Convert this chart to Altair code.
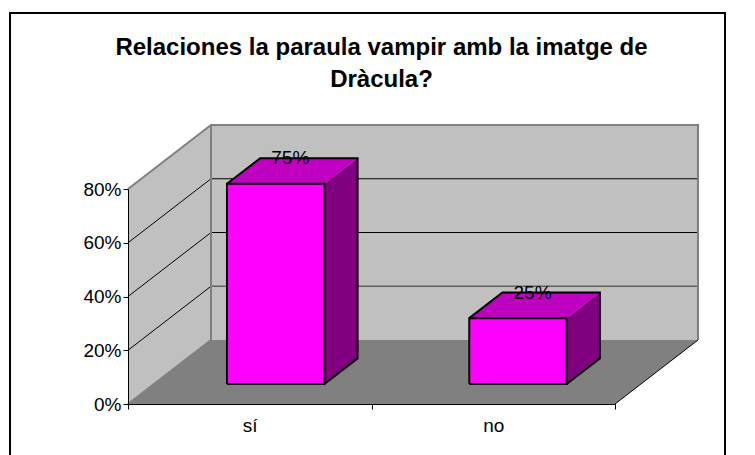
import altair as alt
import pandas as pd

categories = ["sí", "no"]
values = [74.5, 24.5]
bar_labels = ["75%", "25%"]
y_ticks = [0, 20, 40, 60, 80]
title_lines = ["Relaciones la paraula vampir amb la imatge de", "Dràcula?"]

# layout of the oblique projection
PW, PH = 487, 215          # front plane in px
DX, DY = 83, 64            # depth vector in px
PCT = PH / 80
Dy = DY / PCT
Du = DX / (PW / 2)
F, B = 0.3125, 0.7125      # bar depth range
HALF = 0.2
STEP = 0.995
BAR_FILL, BAR_TOP, BAR_SIDE = "#FF00FF", "#C000C0", "#800080"
GRAY, BLACK = "#808080", "#000000"
FONT = "Liberation Sans"
FS = 19

xscale = alt.Scale(domain=[0, 2], range=[0, PW], nice=False, zero=False)
yscale = alt.Scale(domain=[0, 80], range=[PH, 0], nice=False, zero=False)
xaxis = alt.Axis(
    values=[0, 1, 2], title=None, grid=False, domainColor=BLACK, tickColor=BLACK, tickSize=5, zindex=1,
    labelExpr="datum.value==0?'%s':datum.value==1?'%s':''" % tuple(categories),
    labelOffset=PW / 4, labelFont=FONT, labelFontSize=FS, labelColor=BLACK,
    labelPadding=7, labelOverlap=False, labelBound=False, labelFlush=False)
yaxis = alt.Axis(
    values=y_ticks, title=None, grid=False, domainColor=BLACK, tickColor=BLACK, tickSize=5, zindex=1,
    labelExpr="datum.value+'%'", labelFont=FONT, labelFontSize=FS, labelColor=BLACK,
    labelPadding=2)


def X(f):
    return alt.X(f, scale=xscale, axis=xaxis)


def Y(f):
    return alt.Y(f, scale=yscale, axis=yaxis)


def P(u, v, d):
    return u + d * Du, v + d * Dy


def h_face(u0, u1, v0, v1, d0, d1, **style):
    """horizontal-edged parallelogram (floor, tops)"""
    rows = []
    for v, d in ((v0, d0), (v1, d1)):
        a, y = P(u0, v, d)
        b, _ = P(u1, v, d)
        rows.append({"a": a, "b": b, "y": y})
    return alt.Chart(pd.DataFrame(rows)).mark_area(orient="horizontal", **style).encode(
        y=Y("y:Q"), x=X("a:Q"), x2="b:Q")


def v_face(u, v0, v1, d0, d1, **style):
    """vertical-edged parallelogram (walls, bar sides)"""
    rows = []
    for d in (d0, d1):
        a, y0 = P(u, v0, d)
        _, y1 = P(u, v1, d)
        rows.append({"x": a, "y0": y0, "y1": y1})
    return alt.Chart(pd.DataFrame(rows)).mark_area(orient="vertical", **style).encode(
        x=X("x:Q"), y=Y("y0:Q"), y2="y1:Q")


def seg(pts, color, width=1):
    rows = [{"x": x, "y": y, "i": i} for i, (x, y) in enumerate(pts)]
    return alt.Chart(pd.DataFrame(rows)).mark_line(color=color, strokeWidth=width, clip=False).encode(
        x=X("x:Q"), y=Y("y:Q"), order="i:O")


layers = []
# walls and floor
layers.append(v_face(0, 0, 80, 0, 1, color="#C0C0C0"))
layers.append(h_face(0, 2, 0, 80, 1, 1, color="#C0C0C0"))
layers.append(h_face(0, 2, 0, 0, 0, 1, color=GRAY))
# grid lines
for t in y_ticks[1:-1]:
    layers.append(seg([P(0, t, 0), P(0, t, 1)], BLACK))
    if t == 20:
        layers.append(seg([P(0, t, 1), P(2, t, 1)], "#606060", 1.5))
    else:
        layers.append(seg([P(0, t, 1), P(2, t, 1)], BLACK))
# wall edges
layers.append(seg([P(0, 80, 0), P(0, 80, 1), P(2, 80, 1), P(2, 0, 1)], GRAY, 2))
layers.append(seg([P(0, 80, 1), P(0, 0, 1), P(0, 0, 0)], GRAY, 2))
layers.append(seg([P(2, 0, 0), P(2, 0, 1)], BLACK))

# bars
for i, val in enumerate(values):
    c = i * STEP + 0.5
    u0, u1 = c - HALF, c + HALF
    layers.append(v_face(u1, 0, val, F, B, color=BAR_SIDE))
    layers.append(h_face(u0, u1, val, val, F, B, color=BAR_TOP))
    layers.append(h_face(u0, u1, 0, val, F, F, color=BAR_FILL))
    layers.append(seg([P(u0, 0, F), P(u1, 0, F), P(u1, val, F), P(u0, val, F), P(u0, 0, F)], BLACK, 2))
    layers.append(seg([P(u0, val, F), P(u0, val, B), P(u1, val, B), P(u1, 0, B), P(u1, 0, F)], BLACK, 2))

# data labels
rows = []
for i, (val, txt) in enumerate(zip(values, bar_labels)):
    x, _ = P(i * STEP + 0.5, val, (F + B) / 2)
    _, y = P(i * STEP + 0.5, val, B)
    rows.append({"x": x, "y": y, "t": txt})
labels = alt.Chart(pd.DataFrame(rows)).mark_text(
    font=FONT, fontSize=FS, color=BLACK, baseline="middle", dx=-2
).encode(x=X("x:Q"), y=Y("y:Q"), text="t:N")

# chart frame, relative to the plot origin
frame = alt.Chart(pd.DataFrame({"a": [0]})).mark_rect(fill="white", stroke=BLACK, strokeWidth=2).encode(
    x=alt.value(-118), x2=alt.value(597), y=alt.value(-176), y2=alt.value(400))

# chart title, two lines above the plot
title = [
    alt.Chart(pd.DataFrame({"t": [line]})).mark_text(
        font=FONT, fontSize=24, fontWeight="bold", color=BLACK, baseline="middle", align="center"
    ).encode(x=alt.value(PW / 2 + 10), y=alt.value(-141 + 32 * n), text="t:N")
    for n, line in enumerate(title_lines)
]

chart = alt.layer(frame, *layers, labels, *title).properties(
    width=PW, height=PH,
    padding={"left": 120, "top": 181, "right": 132, "bottom": 51},
    autosize="none",
    background="white",
).configure_view(stroke=None)

chart.save("out.html", embed_options={"renderer": "svg", "actions": False})
